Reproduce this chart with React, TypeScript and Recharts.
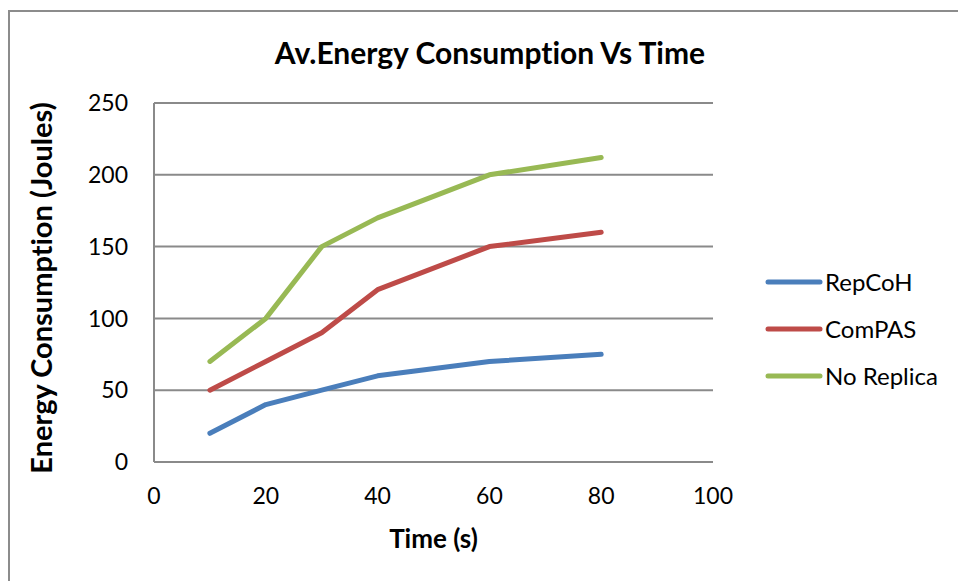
import React from "react";
import { LineChart, Line, XAxis, YAxis, CartesianGrid } from "recharts";

const timeValues = [10, 20, 30, 40, 60, 80];
const repCoH = [20, 40, 50, 60, 70, 75];
const comPAS = [50, 70, 90, 120, 150, 160];
const noReplica = [70, 100, 150, 170, 200, 212];

const xTicks = [0, 20, 40, 60, 80, 100];
const yTicks = [0, 50, 100, 150, 200, 250];

const seriesNames = ["RepCoH", "ComPAS", "No Replica"];
const seriesColors = ["#4a7ebb", "#be4b48", "#98b954"];

const chartData = timeValues.map((t, i) => ({
  time: t,
  RepCoH: repCoH[i],
  ComPAS: comPAS[i],
  "No Replica": noReplica[i],
}));

const FONT = "Lato, 'Open Sans', sans-serif";
const GRID = "#8a8a8a";

const LegendBox = () => (
  <div
    style={{
      position: "absolute",
      left: 765,
      top: 258,
      fontFamily: FONT,
      fontSize: 24,
      color: "#000",
    }}
  >
    {seriesNames.map((name, i) => (
      <div
        key={name}
        style={{ display: "flex", alignItems: "center", height: 47 }}
      >
        <svg width={58} height={10}>
          <line
            x1={3}
            y1={5}
            x2={55}
            y2={5}
            stroke={seriesColors[i]}
            strokeWidth={5}
            strokeLinecap="round"
          />
        </svg>
        <span style={{ marginLeft: 2 }}>{name}</span>
      </div>
    ))}
  </div>
);

const App = () => {
  return (
    <div
      style={{
        position: "absolute",
        left: 0,
        top: 0,
        width: 958,
        height: 581,
        overflow: "hidden",
        background: "#fff",
      }}
    >
      <style>{`html, body { margin: 0; overflow: hidden; }`}</style>
      {/* outer chart frame: only the left and top edges are in view */}
      <div
        style={{
          position: "absolute",
          left: 8,
          top: 10,
          width: 2000,
          height: 2000,
          border: "2px solid #8c8c8c",
        }}
      />
      <div
        style={{
          position: "absolute",
          left: 0,
          width: 980,
          top: 34,
          textAlign: "center",
          fontFamily: FONT,
          fontWeight: 700,
          fontSize: 30,
          fontVariantLigatures: "none",
          color: "#000",
        }}
      >
        Av.Energy Consumption Vs Time
      </div>
      <LineChart
        width={958}
        height={581}
        data={chartData}
        margin={{ top: 103, right: 245, left: 94, bottom: 24 }}
        style={{ position: "absolute", left: 0, top: 0 }}
      >
        <CartesianGrid vertical={false} stroke={GRID} strokeWidth={2} />
        <XAxis
          dataKey="time"
          type="number"
          domain={[0, 100]}
          ticks={xTicks}
          height={95}
          tickLine={false}
          tickSize={6}
          tickMargin={20}
          axisLine={{ stroke: GRID, strokeWidth: 2 }}
          tick={{ fill: "#000", fontSize: 23, fontFamily: FONT }}
          label={{
            content: (props: any) => {
              const vb = props.viewBox;
              return (
                <text
                  x={vb.x + vb.width / 2}
                  y={538}
                  textAnchor="middle"
                  dominantBaseline="central"
                  fontFamily={FONT}
                  fontWeight={700}
                  fontSize={26}
                  fill="#000"
                >
                  Time (s)
                </text>
              );
            },
          }}
        />
        <YAxis
          type="number"
          domain={[0, 250]}
          ticks={yTicks}
          width={60}
          tickLine={false}
          tickSize={6}
          tickMargin={20}
          axisLine={{ stroke: GRID, strokeWidth: 2 }}
          tick={{ fill: "#000", fontSize: 23, fontFamily: FONT }}
          label={{
            content: () => (
              <text
                x={40}
                y={288}
                transform="rotate(-90 40 288)"
                textAnchor="middle"
                dominantBaseline="central"
                fontFamily={FONT}
                fontWeight={700}
                fontSize={29}
                style={{ fontVariantLigatures: "none" }}
                fill="#000"
              >
                Energy Consumption (Joules)
              </text>
            ),
          }}
        />
        {seriesNames.map((name, i) => (
          <Line
            key={name}
            type="linear"
            dataKey={name}
            stroke={seriesColors[i]}
            strokeWidth={5}
            strokeLinecap="round"
            strokeLinejoin="round"
            dot={false}
            activeDot={false}
            isAnimationActive={false}
          />
        ))}
      </LineChart>
      <LegendBox />
    </div>
  );
};

export default App;
